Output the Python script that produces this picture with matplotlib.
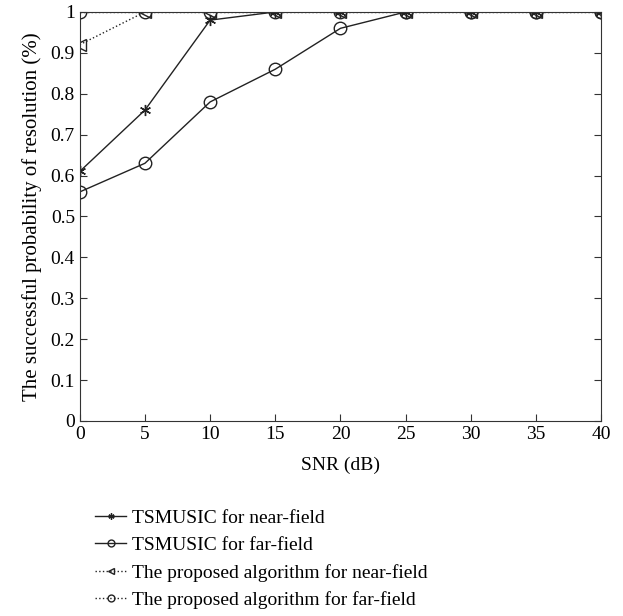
import matplotlib
matplotlib.use('Agg')
import matplotlib.pyplot as plt

plt.rcParams['font.family'] = ['Liberation Serif', 'DejaVu Serif']

snr = [0, 5, 10, 15, 20, 25, 30, 35, 40]
ts_near = [0.61, 0.76, 0.98, 1, 1, 1, 1, 1, 1]
ts_far = [0.56, 0.63, 0.78, 0.86, 0.96, 1, 1, 1, 1]
prop_near = [0.92, 1, 1, 1, 1, 1, 1, 1, 1]
prop_far = [1, 1, 1, 1, 1, 1, 1, 1, 1]

fig = plt.figure(figsize=(6.23, 6.16), dpi=100)
ax = fig.add_axes([0.128, 0.3166, 0.837, 0.664])

asterisk = (6, 2, 0)
ax.plot(snr, ts_near, '-', color='#222222', lw=1, marker=asterisk, ms=8,
        mew=1, label='TSMUSIC for near-field')
ax.plot(snr, ts_far, '-', color='#222222', lw=1, marker='o', ms=9,
        mfc='none', label='TSMUSIC for far-field')
ax.plot(snr, prop_near, ':', color='#222222', lw=1, marker='<', ms=9,
        mfc='none', label='The proposed algorithm for near-field')
ax.plot(snr, prop_far, ':', color='#222222', lw=1, marker='o', ms=9,
        mfc='none', label='The proposed algorithm for far-field')

ax.set_xlim(0, 40)
ax.set_ylim(0, 1)
ax.set_xticks(snr)
ax.set_yticks([i / 10 for i in range(11)])
ax.set_yticklabels(['0'] + [f'{i / 10:g}' for i in range(1, 10)] + ['1'])
ax.tick_params(direction='in', right=True, labelsize=14,
               length=5, color='#333333')
for s in ax.spines.values():
    s.set_color('#333333')
ax.set_xlabel('SNR (dB)', fontsize=14, labelpad=10)
ax.set_ylabel('The successful probability of resolution (%)', fontsize=15,
              labelpad=6)

leg = fig.legend(loc='upper left', bbox_to_anchor=(0.125, 0.202), frameon=False,
                 fontsize=14, handlelength=1.6, handletextpad=0.3,
                 labelspacing=0.5, markerscale=0.55)

fig.savefig('out.png', dpi=100)
